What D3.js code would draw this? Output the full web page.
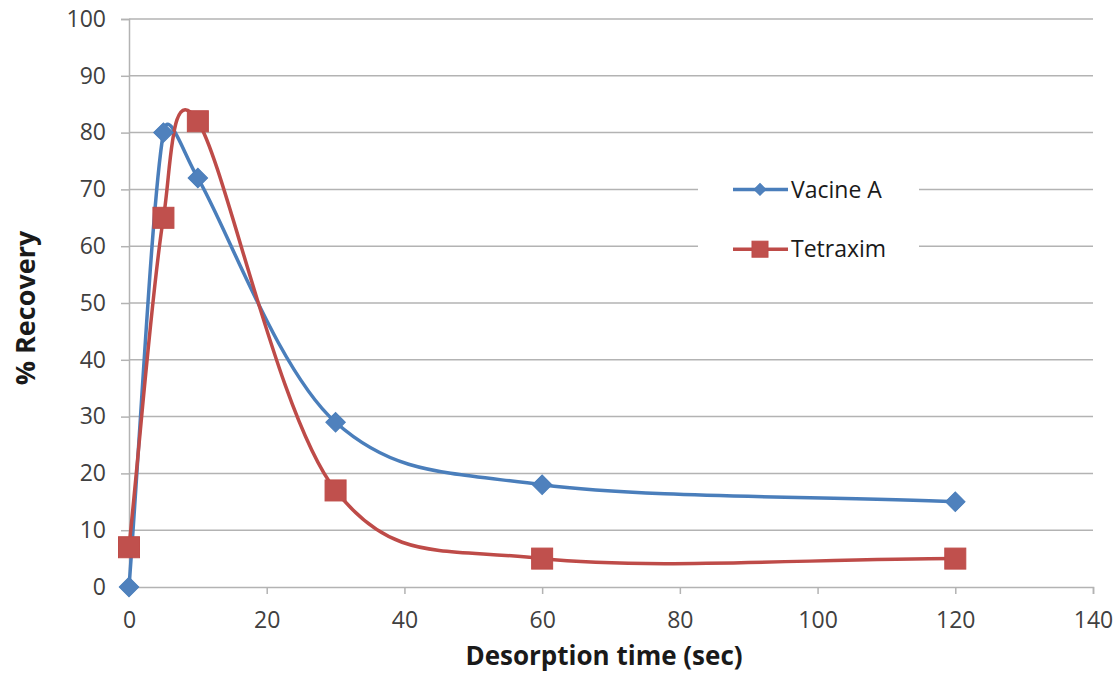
<!DOCTYPE html>
<html>
<head>
<meta charset="utf-8">
<script src="https://cdn.jsdelivr.net/npm/d3@7"></script>
<style>
  html, body { margin: 0; padding: 0; background: #fff; }
  svg { display: block; }
  text { font-family: "Open Sans", "Lato", sans-serif; }
</style>
</head>
<body>
<svg id="chart" width="1117" height="681"></svg>
<script>
// Desorption times (sec)
const times = [0, 5, 10, 30, 60, 120];
// % recovery per sample
const vacineA = [0, 80, 72, 29, 18, 15];
const tetraxim = [7, 65, 82, 17, 5, 5];
const seriesNames = ["Vacine A", "Tetraxim"];
const xTicks = [0, 20, 40, 60, 80, 100, 120, 140];
const yTicks = [0, 10, 20, 30, 40, 50, 60, 70, 80, 90, 100];

const svg = d3.select("#chart");
const margin = { left: 129, right: 24, top: 19, bottom: 94 };
const W = 1117, H = 681;

const x = d3.scaleLinear().domain([0, 140]).range([margin.left, W - margin.right]);
const y = d3.scaleLinear().domain([0, 100]).range([H - margin.bottom, margin.top]);

const gridColor = "#b3b3b3";
const textColor = "#404040";

// horizontal gridlines
svg.append("g").selectAll("line").data(yTicks.filter(d => d > 0)).join("line")
  .attr("x1", x(0)).attr("x2", x(140))
  .attr("y1", d => y(d)).attr("y2", d => y(d))
  .attr("stroke", gridColor).attr("stroke-width", 1.5);

// y axis
const yAxis = svg.append("g")
  .attr("transform", `translate(${x(0)},0)`)
  .call(d3.axisLeft(y).tickValues(yTicks).tickSize(8).tickPadding(15));
yAxis.select(".domain").attr("stroke", gridColor).attr("stroke-width", 1.5);
yAxis.selectAll(".tick line").attr("stroke", gridColor).attr("stroke-width", 1.5);
yAxis.selectAll(".tick text").attr("fill", textColor).style("font-size", "23px");

// x axis
const xAxis = svg.append("g")
  .attr("transform", `translate(0,${y(0)})`)
  .call(d3.axisBottom(x).tickValues(xTicks).tickSize(7).tickPadding(18));
xAxis.select(".domain").attr("stroke", gridColor).attr("stroke-width", 1.5);
xAxis.selectAll(".tick line").attr("stroke", gridColor).attr("stroke-width", 1.5);
xAxis.selectAll(".tick text").attr("fill", textColor).style("font-size", "23px");

// axis titles
svg.append("text")
  .attr("x", 604).attr("y", 665)
  .attr("text-anchor", "middle")
  .attr("fill", "#1a1a1a")
  .style("font-size", "26px").style("font-weight", "bold")
  .text("Desorption time (sec)");

svg.append("text")
  .attr("transform", `translate(35,308) rotate(-90)`)
  .attr("text-anchor", "middle")
  .attr("fill", "#1a1a1a")
  .style("font-size", "27px").style("font-weight", "bold")
  .text("% Recovery");

// Spreadsheet-style smoothed line: cubic Bezier segments whose control
// handles follow the neighbouring points, shortened on short segments.
function smoothPath(pts) {
  const p = d3.path();
  const dist = (a, b) => Math.hypot(b[0] - a[0], b[1] - a[1]);
  p.moveTo(pts[0][0], pts[0][1]);
  for (let i = 0; i < pts.length - 1; i++) {
    const p0 = pts[Math.max(i - 1, 0)], p1 = pts[i], p2 = pts[i + 1],
          p3 = pts[Math.min(i + 2, pts.length - 1)];
    const d12 = dist(p1, p2), d02 = dist(p0, p2), d13 = dist(p1, p3);
    let f = (i === 0) ? 1 / 3 : (d02 / 6 < d12 / 2 ? 1 / 6 : d12 / (2 * d02));
    let g = (i + 2 > pts.length - 1) ? 1 / 3 : (d13 / 6 < d12 / 2 ? 1 / 6 : d12 / (2 * d13));
    const c1 = [p1[0] + f * (p2[0] - p0[0]), p1[1] + f * (p2[1] - p0[1])];
    const c2 = [p2[0] - g * (p3[0] - p1[0]), p2[1] - g * (p3[1] - p1[1])];
    p.bezierCurveTo(c1[0], c1[1], c2[0], c2[1], p2[0], p2[1]);
  }
  return p.toString();
}

const blueLine = "#4a7ebb", blueFill = "#4f81bd";
const redLine = "#be4b48", redFill = "#c0504d";

const dataA = times.map((t, i) => [t, vacineA[i]]);
const dataT = times.map((t, i) => [t, tetraxim[i]]);
const toPx = d => [x(d[0]), y(d[1])];

svg.append("path").attr("d", smoothPath(dataA.map(toPx)))
  .attr("fill", "none").attr("stroke", blueLine).attr("stroke-width", 3.5);
svg.append("path").attr("d", smoothPath(dataT.map(toPx)))
  .attr("fill", "none").attr("stroke", redLine).attr("stroke-width", 3.5);

svg.append("g").selectAll("path").data(dataA).join("path")
  .attr("transform", d => `translate(${x(d[0])},${y(d[1])}) rotate(45)`)
  .attr("d", d3.symbol().type(d3.symbolSquare).size(190))
  .attr("fill", blueFill).attr("stroke", blueLine).attr("stroke-width", 1);

svg.append("g").selectAll("rect").data(dataT).join("rect")
  .attr("x", d => x(d[0]) - 10.5).attr("y", d => y(d[1]) - 10.5)
  .attr("width", 21).attr("height", 21)
  .attr("fill", redFill).attr("stroke", redLine).attr("stroke-width", 1);

// legend
const legend = svg.append("g");
legend.append("rect")
  .attr("x", 698).attr("y", 160).attr("width", 221).attr("height", 118)
  .attr("fill", "#fff");
const legendRows = [
  { name: seriesNames[0], ly: y(70), color: blueLine, fill: blueFill, shape: "diamond" },
  { name: seriesNames[1], ly: y(60) + 3, color: redLine, fill: redFill, shape: "square" }
];
legendRows.forEach(r => {
  legend.append("line")
    .attr("x1", 733).attr("x2", 788).attr("y1", r.ly).attr("y2", r.ly)
    .attr("stroke", r.color).attr("stroke-width", 3.5);
  if (r.shape === "diamond") {
    legend.append("path")
      .attr("transform", `translate(760,${r.ly}) rotate(45)`)
      .attr("d", d3.symbol().type(d3.symbolSquare).size(70))
      .attr("fill", r.fill).attr("stroke", r.color);
  } else {
    legend.append("rect")
      .attr("x", 752).attr("y", r.ly - 8).attr("width", 16).attr("height", 16)
      .attr("fill", r.fill).attr("stroke", r.color);
  }
  legend.append("text")
    .attr("x", 791).attr("y", r.ly).attr("dy", "0.36em")
    .attr("fill", "#1a1a1a")
    .style("font-size", "23px")
    .text(r.name);
});
</script>
</body>
</html>
